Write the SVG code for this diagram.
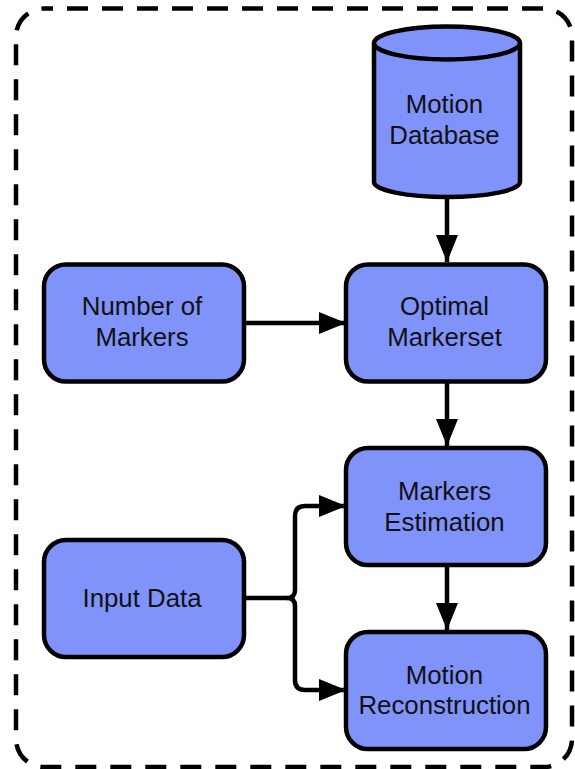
<svg xmlns="http://www.w3.org/2000/svg" width="575" height="769" viewBox="0 0 575 769">
<defs>
<marker id="a" markerUnits="userSpaceOnUse" markerWidth="28" markerHeight="24" refX="27" refY="11" orient="auto"><path d="M0 0L27 11L0 22Z" fill="#000"/></marker>
</defs>
<style>
.n{fill:#8093fb;stroke:#000;stroke-width:4.5}
.t{font-family:"Liberation Sans",Arial,sans-serif;font-size:25.800px;fill:#111;text-anchor:middle}
.c{fill:none;stroke:#000;stroke-width:4.5}
</style>
<rect id="frame" x="16" y="8.500" width="556" height="758.500" rx="28" fill="none" stroke="#000" stroke-width="4.500" stroke-dasharray="21 14" stroke-dashoffset="12"/>
<g id="connectors">
<path class="c" d="M447 197V262" marker-end="url(#a)"/>
<path class="c" d="M245 323H346" marker-end="url(#a)"/>
<path class="c" d="M447 382V446" marker-end="url(#a)"/>
<path class="c" d="M447 566V630" marker-end="url(#a)"/>
<path class="c" d="M245 598H287Q295 598 295 590V516Q295 506 305 506H346" marker-end="url(#a)"/>
<path class="c" d="M287 598Q295 598 295 606V680Q295 690 305 690H346" marker-end="url(#a)"/>
</g>
<g id="motion-database">
<path class="n" d="M374 43V182A73 15 0 0 0 520 182V43A73 16.500 0 0 0 374 43Z"/>
<path class="n" d="M374 43A73 16.500 0 0 0 520 43" fill="none"/>
<text class="t" x="444.500" y="113">Motion</text>
<text class="t" x="444.500" y="144">Database</text>
</g>
<g id="number-of-markers">
<rect class="n" x="44" y="264.500" width="200" height="117" rx="22"/>
<text class="t" x="142" y="315">Number of</text>
<text class="t" x="142" y="346">Markers</text>
</g>
<g id="optimal-markerset">
<rect class="n" x="346" y="264.500" width="200" height="117" rx="22"/>
<text class="t" x="444.500" y="315">Optimal</text>
<text class="t" x="444.500" y="346">Markerset</text>
</g>
<g id="markers-estimation">
<rect class="n" x="346" y="448" width="200" height="117" rx="22"/>
<text class="t" x="444.500" y="500">Markers</text>
<text class="t" x="444.500" y="531">Estimation</text>
</g>
<g id="input-data">
<rect class="n" x="44" y="540" width="200" height="117" rx="22"/>
<text class="t" x="142" y="607">Input Data</text>
</g>
<g id="motion-reconstruction">
<rect class="n" x="346" y="632" width="200" height="117" rx="22"/>
<text class="t" x="444.500" y="684">Motion</text>
<text class="t" x="444.500" y="714">Reconstruction</text>
</g>
</svg>
